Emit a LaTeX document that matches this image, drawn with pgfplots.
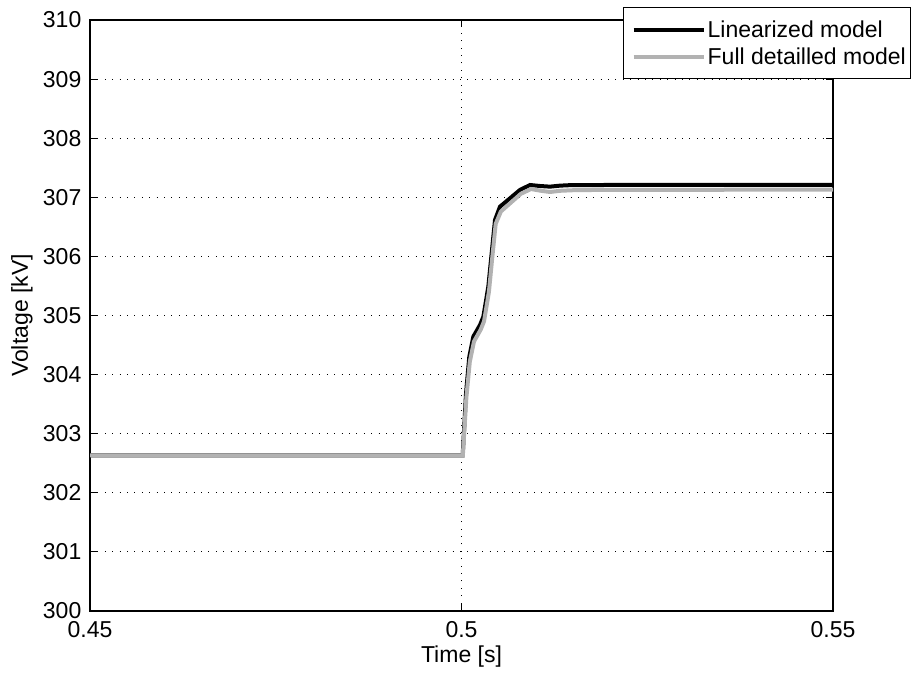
\documentclass[border=0pt]{standalone}
\usepackage{fontspec}
\setmainfont{Liberation Sans}
\usepackage{pgfplots}
\pgfplotsset{compat=1.18}
\definecolor{lg}{RGB}{178,178,178}
\newcommand{\fs}{\fontsize{23bp}{27bp}\selectfont}
\begin{document}
\begin{tikzpicture}
\path (0,0) rectangle (912bp,673bp);
\begin{axis}[
  at={(90bp,62bp)}, anchor=south west,
  width=743bp, height=591bp, scale only axis,
  xmin=0.45, xmax=0.55, ymin=300, ymax=310,
  xtick={0.45,0.5,0.55}, xticklabels={0.45,0.5,0.55},
  ytick={300,301,302,303,304,305,306,307,308,309,310},
  /pgf/number format/assume math mode=true,
  /pgf/number format/1000 sep={},
  grid=major, grid style={black, line width=0.9bp, dash pattern=on 0.9bp off 6.5bp},
  tick align=inside, major tick length=7bp,
  tick style={black, line width=0.9bp},
  axis line style={line width=1.1bp},
  every tick label/.append style={font=\fs, inner sep=1bp},
  xticklabel style={yshift=-9.5bp},
  yticklabel style={xshift=-7.5bp},
  label style={font=\fs},
  xlabel={Time [s]}, ylabel={Voltage [kV]},
  xlabel style={at={(axis description cs:0.5,-0.0778)}, anchor=center},
  ylabel style={at={(axis description cs:-0.0915,0.5)}, anchor=center},
  legend style={at={(rel axis cs:1.1055,1.022)}, anchor=north east,
    draw=black, line width=1.1bp, fill=white, font=\fs,
    inner xsep=3bp, inner ysep=11bp, row sep=5bp,
    /tikz/every even column/.append style={column sep=2bp}},
  legend cell align=left,
  legend image code/.code={\path (-5bp,0bp); \draw[#1] (0bp,0bp) -- (70bp,0bp);},
]
\addplot[black, line width=4bp] coordinates {
(0.45,302.634) (0.5,302.634) (0.50016,302.634) (0.50061,303.683) (0.50105,304.303)
(0.50159,304.642) (0.50249,304.839) (0.50294,304.980) (0.50361,305.488)
(0.50406,306.052) (0.50451,306.616) (0.50518,306.841) (0.50653,306.983)
(0.50787,307.124) (0.50922,307.208) (0.51057,307.191) (0.51191,307.180)
(0.51326,307.197) (0.51506,307.208) (0.51864,307.208) (0.55,307.21)
};
\addlegendentry{Linearized model}
\addplot[lg, line width=4bp] coordinates {
(0.45,302.634) (0.5,302.634) (0.50018,302.634) (0.50066,303.62) (0.50112,304.22)
(0.50168,304.56) (0.50258,304.76) (0.50303,304.90) (0.50369,305.40)
(0.50414,305.98) (0.50460,306.55) (0.50530,306.76) (0.50665,306.91)
(0.50800,307.06) (0.50935,307.14) (0.51070,307.11) (0.51191,307.09)
(0.51326,307.11) (0.51506,307.12) (0.51864,307.125) (0.55,307.13)
};
\addlegendentry{Full detailled model}
\end{axis}
\end{tikzpicture}
\end{document}
